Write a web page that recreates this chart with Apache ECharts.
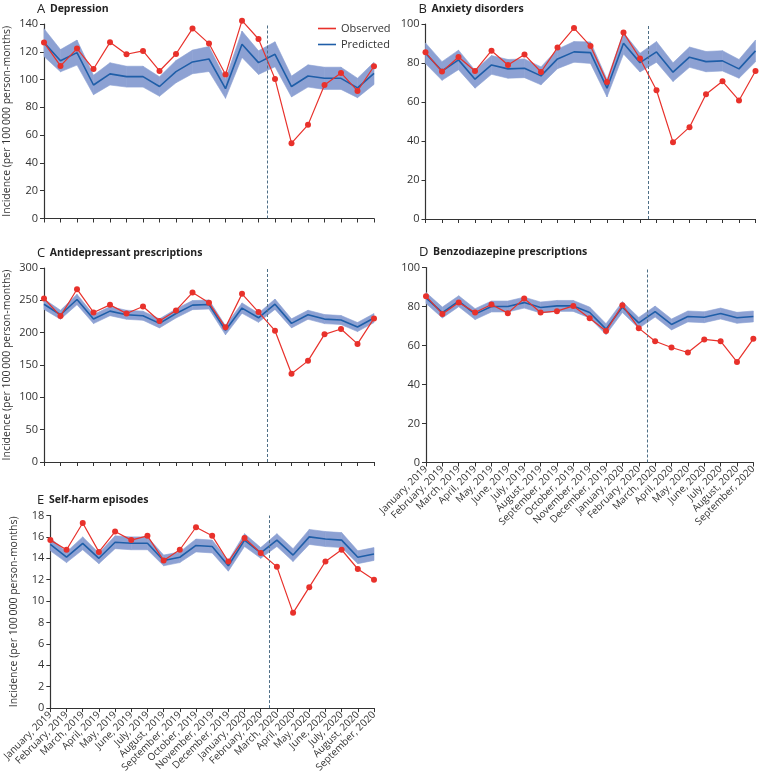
<!DOCTYPE html>
<html>
<head>
<meta charset="utf-8">
<script src="https://cdn.jsdelivr.net/npm/echarts@6/dist/echarts.min.js"></script>
<style>
html,body{margin:0;padding:0;background:#fff;}
#chart{width:759px;height:775px;}
</style>
</head>
<body>
<div id="chart"></div>
<script>
const months = ['January, 2019','February, 2019','March, 2019','April, 2019','May, 2019','June, 2019','July, 2019','August, 2019','September, 2019','October, 2019','November, 2019','December, 2019','January, 2020','February, 2020','March, 2020','April, 2020','May, 2020','June, 2020','July, 2020','August, 2020','September, 2020'];

// A Depression
const depObs  = [126.6,109.8,122.3,107.6,126.8,118.2,120.6,106.2,118.4,136.7,125.9,103.6,142.4,129.2,100.5,54.2,67.4,96.1,104.8,91.8,109.6];
const depPred = [126.6,113.6,119.4,96.1,104.1,102.1,102.1,95.0,105.7,112.7,114.8,93.5,125.4,112.2,118.2,95.0,102.6,100.9,100.9,94.0,104.5];
const depLow  = [116.6,105.6,110.4,89.1,96.1,94.6,94.6,88.0,97.7,104.2,105.8,86.5,115.9,103.7,109.2,87.5,94.6,92.9,92.9,87.0,96.5];
const depHigh = [136.6,121.6,128.4,103.1,112.1,109.6,109.6,102.0,113.7,121.2,123.8,100.5,134.9,120.7,127.2,102.5,110.6,108.9,108.9,101.0,112.5];

// B Anxiety disorders
const anxObs  = [85.5,75.6,83.1,75.9,86.3,79.0,84.3,75.4,87.9,97.9,88.7,70.3,95.6,82.3,66.0,39.4,47.1,64.0,70.6,60.8,75.9];
const anxPred = [85.0,75.9,81.6,71.7,79.0,77.0,77.3,73.4,82.1,85.7,85.3,67.1,90.1,80.2,85.7,75.3,83.0,80.7,81.1,77.0,86.2];
const anxLow  = [79.7,71.1,76.6,67.1,74.2,72.2,72.5,68.8,77.1,80.4,79.8,62.6,84.6,75.4,80.4,70.5,77.8,75.5,75.9,72.2,80.6];
const anxHigh = [90.3,80.7,86.6,76.3,83.8,81.8,82.1,78.0,87.1,91.0,90.8,71.6,95.6,85.0,91.0,80.1,88.2,85.9,86.3,81.8,91.8];

// C Antidepressant prescriptions
const adObs  = [252.8,225.6,267.2,231.3,243.0,229.7,240.5,218.0,234.4,262.0,246.2,208.2,260.0,231.8,203.0,136.4,156.4,197.4,205.6,182.6,222.0];
const adPred = [244.0,227.7,251.3,221.0,233.3,227.7,226.2,214.4,229.7,242.6,243.6,203.6,238.0,223.0,244.0,214.4,227.7,221.0,219.5,208.7,222.6];
const adLow  = [236.0,220.7,243.3,214.0,226.3,220.7,219.2,207.4,222.7,235.6,236.6,196.6,230.0,216.0,236.0,207.4,220.7,214.0,212.5,201.7,215.6];
const adHigh = [252.0,234.7,259.3,228.0,240.3,234.7,233.2,221.4,236.7,249.6,250.6,210.6,246.0,230.0,252.0,221.4,234.7,228.0,226.5,215.7,229.6];

// D Benzodiazepine prescriptions
const bzObs  = [85.3,76.2,82.0,76.9,81.0,76.6,84.1,76.9,77.6,80.3,74.0,67.4,80.7,68.9,62.2,59.0,56.4,63.1,62.2,51.6,63.4];
const bzPred = [84.4,76.9,82.7,76.1,80.0,80.0,82.0,79.5,80.3,80.3,76.9,68.4,79.7,71.6,77.4,70.8,74.9,74.5,76.4,74.2,74.9];
const bzLow  = [81.6,74.1,79.9,73.3,77.2,77.2,79.2,76.7,77.5,77.5,74.1,65.6,76.9,68.8,74.6,68.0,72.1,71.7,73.6,71.4,72.1];
const bzHigh = [87.2,79.7,85.5,78.9,82.8,82.8,84.8,82.3,83.1,83.1,79.7,71.2,82.5,74.4,80.2,73.6,77.7,77.3,79.2,77.0,77.7];

// E Self-harm episodes
const shObs  = [15.7,14.8,17.3,14.6,16.5,15.7,16.1,13.8,14.8,16.9,16.1,13.7,15.9,14.5,13.2,8.9,11.3,13.7,14.8,13.0,12.0];
const shPred = [15.3,14.1,15.4,14.0,15.5,15.4,15.4,13.8,14.1,15.2,15.1,13.3,15.7,14.5,15.7,14.3,16.0,15.8,15.7,14.1,14.4];
const shLow  = [14.7,13.6,14.8,13.5,14.9,14.8,14.8,13.3,13.6,14.6,14.5,12.8,15.1,14.0,15.1,13.7,15.3,15.1,15.0,13.5,13.8];
const shHigh = [15.9,14.6,16.0,14.5,16.1,16.0,16.0,14.3,14.6,15.8,15.7,13.8,16.3,15.0,16.3,14.9,16.7,16.5,16.4,14.7,15.0];

const interventionIndex = 13.5; // between February and March 2020

const panels = [
  {letter:'A', title:'Depression', obs:depObs, pred:depPred, low:depLow, high:depHigh, yMax:140, yInt:20, grid:{left:44, top:24, width:330, height:194.5}, yName:true, xLabels:false},
  {letter:'B', title:'Anxiety disorders', obs:anxObs, pred:anxPred, low:anxLow, high:anxHigh, yMax:100, yInt:20, grid:{left:425.5, top:24, width:330, height:195}, yName:false, xLabels:false},
  {letter:'C', title:'Antidepressant prescriptions', obs:adObs, pred:adPred, low:adLow, high:adHigh, yMax:300, yInt:50, grid:{left:44, top:268, width:330, height:194}, yName:true, xLabels:false},
  {letter:'D', title:'Benzodiazepine prescriptions', obs:bzObs, pred:bzPred, low:bzLow, high:bzHigh, yMax:100, yInt:20, grid:{left:426, top:267.5, width:330, height:195}, yName:false, xLabels:true},
  {letter:'E', title:'Self-harm episodes', obs:shObs, pred:shPred, low:shLow, high:shHigh, yMax:18, yInt:2, grid:{left:44, top:515.5, width:330, height:195.5}, yName:true, xLabels:true}
];

const FONT = '"Open Sans", "Noto Sans", sans-serif';
const RED = '#e8312b', BLUE = '#1f5ea8', BAND = '#8da1d3', AXIS = '#333333';

const option = {
  animation:false,
  backgroundColor:'#ffffff',
  textStyle:{fontFamily:FONT},
  title:[], grid:[], xAxis:[], yAxis:[], series:[],
  legend:{
    left:313, top:18, orient:'vertical', itemGap:5,
    icon:'rect', itemWidth:18, itemHeight:1.6,
    textStyle:{fontFamily:FONT, fontSize:11, color:'#333'},
    data:['Observed','Predicted']
  }
};

function bandRenderer(low, high) {
  return function (params, api) {
    const i = api.value(0);
    const p1 = api.coord([i, low[i]]);
    const p2 = api.coord([i + 1, low[i + 1]]);
    const p3 = api.coord([i + 1, high[i + 1]]);
    const p4 = api.coord([i, high[i]]);
    return {
      type:'polygon',
      shape:{points:[p1, p2, p3, p4]},
      style:{fill:BAND, stroke:BAND, lineWidth:0.6}
    };
  };
}

panels.forEach((p, k) => {
  option.title.push({
    text:'{a|' + p.letter + '} {b|' + p.title + '}',
    left:p.grid.left - 12, top:p.grid.top - 29,
    textStyle:{rich:{
      a:{fontFamily:FONT, fontSize:13, color:'#222', fontWeight:'normal'},
      b:{fontFamily:FONT, fontSize:10.5, color:'#222', fontWeight:'bold'}
    }}
  });
  option.grid.push(Object.assign({containLabel:false}, p.grid));
  option.xAxis.push({
    type:'value', gridIndex:k, min:0, max:months.length - 1, interval:1,
    splitLine:{show:false},
    axisLine:{show:true, onZero:false, lineStyle:{color:AXIS, width:1.2}},
    axisTick:{show:true, length:4, lineStyle:{color:AXIS}},
    axisLabel:{show:p.xLabels, rotate:45, margin:5, fontSize:10, color:'#333', fontFamily:FONT,
      formatter:(v) => months[Math.round(v)] || ''}
  });
  option.yAxis.push({
    type:'value', gridIndex:k, min:0, max:p.yMax, interval:p.yInt,
    splitLine:{show:false},
    axisLine:{show:true, lineStyle:{color:AXIS, width:1.2}},
    axisTick:{show:true, length:4, lineStyle:{color:AXIS}},
    axisLabel:{fontSize:11, color:'#333', margin:6, fontFamily:FONT},
    name:p.yName ? 'Incidence (per 100\u2009000 person-months)' : '',
    nameLocation:'middle', nameGap:31,
    nameTextStyle:{fontSize:10.5, color:'#333', fontFamily:FONT}
  });
  const pairs = (arr) => arr.map((v, i) => [i, v]);
  option.series.push({
    name:'band' + k, type:'custom', xAxisIndex:k, yAxisIndex:k,
    data:p.low.slice(0, -1).map((v, i) => [i]),
    renderItem:bandRenderer(p.low, p.high), silent:true, clip:false, z:1
  });
  option.series.push({
    name:'Predicted', type:'line', xAxisIndex:k, yAxisIndex:k,
    data:pairs(p.pred), symbol:'none', itemStyle:{color:BLUE},
    lineStyle:{color:BLUE, width:1.6}, z:3, clip:false,
    markLine:{
      silent:true, symbol:'none', label:{show:false},
      lineStyle:{color:'#4e6e86', type:[3,2], width:1},
      data:[{xAxis:interventionIndex}]
    }
  });
  option.series.push({
    name:'Observed', type:'line', xAxisIndex:k, yAxisIndex:k,
    data:pairs(p.obs), symbol:'circle', symbolSize:6, itemStyle:{color:RED},
    lineStyle:{color:RED, width:1.2}, z:4, clip:false
  });
});

const chart = echarts.init(document.getElementById('chart'), null, {renderer:'canvas'});
chart.setOption(option);
</script>
</body>
</html>
